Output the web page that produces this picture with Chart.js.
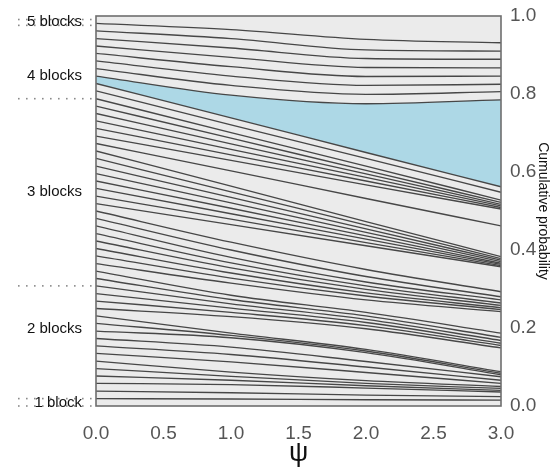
<!DOCTYPE html>
<html><head><meta charset="utf-8">
<script src="https://cdn.jsdelivr.net/npm/chart.js@4/dist/chart.umd.min.js"></script>
<style>html,body{margin:0;padding:0;background:#fff}#wrap{width:559px;height:470px}</style>
</head><body><div id="wrap"><canvas id="c" width="559" height="470"></canvas></div>
<script>
// psi values at which each cumulative-probability line is read
const psi = [0, 1, 2, 3];
const xTicks = [0, 0.5, 1, 1.5, 2, 2.5, 3];
const yTicks = [0, 0.2, 0.4, 0.6, 0.8, 1.0];
const blockLabels = ['1 block', '2 blocks', '3 blocks', '4 blocks', '5 blocks'];
const blockLabelY = [0.007, 0.197, 0.549, 0.846, 0.985];
const dottedBoundaries = [0, 0.019, 0.308, 0.788, 0.976, 0.991];

// cumulative probability lines (values at psi = 0,1,2,3), bottom to top
const lines1Block = [
  [0.019, 0.018, 0.016, 0.015]
];
const lines2Blocks = [
  [0.038, 0.034, 0.028, 0.024],
  [0.058, 0.055, 0.046, 0.036],
  [0.077, 0.066, 0.052, 0.040],
  [0.096, 0.076, 0.058, 0.045],
  [0.115, 0.087, 0.065, 0.050],
  [0.135, 0.113, 0.086, 0.058],
  [0.154, 0.132, 0.100, 0.066],
  [0.173, 0.151, 0.114, 0.075],
  [0.192, 0.175, 0.137, 0.080],
  [0.212, 0.181, 0.141, 0.084],
  [0.231, 0.187, 0.145, 0.088],
  [0.250, 0.229, 0.198, 0.149],
  [0.269, 0.240, 0.206, 0.155],
  [0.288, 0.251, 0.214, 0.161],
  [0.308, 0.262, 0.222, 0.168]
];
const lines3Blocks = [
  [0.327, 0.273, 0.231, 0.176],
  [0.346, 0.284, 0.240, 0.187],
  [0.365, 0.315, 0.272, 0.242],
  [0.385, 0.328, 0.282, 0.247],
  [0.404, 0.341, 0.290, 0.252],
  [0.423, 0.354, 0.299, 0.258],
  [0.442, 0.367, 0.308, 0.264],
  [0.462, 0.381, 0.318, 0.272],
  [0.481, 0.400, 0.332, 0.280],
  [0.500, 0.420, 0.350, 0.293],
  [0.519, 0.465, 0.411, 0.357],
  [0.538, 0.479, 0.419, 0.360],
  [0.558, 0.493, 0.428, 0.363],
  [0.577, 0.507, 0.436, 0.366],
  [0.596, 0.521, 0.445, 0.370],
  [0.615, 0.535, 0.454, 0.374],
  [0.635, 0.549, 0.464, 0.378],
  [0.654, 0.564, 0.473, 0.383],
  [0.673, 0.603, 0.532, 0.462],
  [0.692, 0.630, 0.567, 0.505],
  [0.712, 0.644, 0.577, 0.509],
  [0.731, 0.658, 0.586, 0.513],
  [0.750, 0.672, 0.595, 0.517],
  [0.769, 0.687, 0.604, 0.522],
  [0.788, 0.701, 0.615, 0.528]
];
const lines4Blocks = [
  [0.808, 0.721, 0.635, 0.548],
  [0.827, 0.739, 0.650, 0.562],
  [0.846, 0.797, 0.775, 0.785],
  [0.865, 0.822, 0.799, 0.806],
  [0.885, 0.846, 0.822, 0.825],
  [0.904, 0.870, 0.845, 0.846],
  [0.923, 0.894, 0.868, 0.867],
  [0.942, 0.918, 0.891, 0.889],
  [0.962, 0.942, 0.913, 0.910],
  [0.981, 0.965, 0.940, 0.9315]
];
const highlightLine = 44; // 1-based index of the line topping the shaded band

const allLines = [...lines1Block, ...lines2Blocks, ...lines3Blocks, ...lines4Blocks];
const datasets = allLines.map((vals, i) => ({
  data: psi.map((x, j) => ({x: x, y: vals[j]})),
  borderColor: '#474747',
  borderWidth: 1.35,
  pointRadius: 0,
  cubicInterpolationMode: 'monotone',
  fill: (i + 1 === highlightLine) ? '-1' : false,
  backgroundColor: '#add8e6'
}));

const FONT = '"Liberation Sans", Arial, sans-serif';

const bgPlugin = {
  id: 'bg',
  beforeDraw(chart) {
    const {ctx, chartArea: a} = chart;
    ctx.save();
    ctx.fillStyle = '#ebebeb';
    ctx.fillRect(a.left, a.top, a.right - a.left, a.bottom - a.top);
    ctx.restore();
  },
  afterDraw(chart) {
    const {ctx, chartArea: a} = chart;
    const ys = chart.scales.y;
    ctx.save();
    ctx.strokeStyle = '#6e6e6e';
    ctx.lineWidth = 1.6;
    ctx.strokeRect(a.left, a.top, a.right - a.left, a.bottom - a.top);
    ctx.fillStyle = '#8a8a8a';
    dottedBoundaries.forEach(v => {
      const y = ys.getPixelForValue(v);
      for (let x = 18; x <= 90; x += 8) ctx.fillRect(x, y - 0.8, 1.6, 1.6);
    });
    ctx.fillStyle = '#111';
    ctx.font = '15px ' + FONT;
    ctx.textAlign = 'right';
    ctx.textBaseline = 'middle';
    blockLabels.forEach((t, i) => {
      ctx.fillText(t, 82, ys.getPixelForValue(blockLabelY[i]));
    });
    ctx.restore();
  }
};

new Chart(document.getElementById('c'), {
  type: 'line',
  data: {datasets},
  options: {
    responsive: false,
    animation: false,
    events: [],
    layout: {padding: {left: 96, right: 5, top: 16, bottom: 0}},
    plugins: {legend: {display: false}, tooltip: {enabled: false},
      filler: {drawTime: 'beforeDatasetsDraw'}},
    scales: {
      x: {
        type: 'linear', min: 0, max: 3,
        afterBuildTicks: s => { s.ticks = xTicks.map(v => ({value: v})); },
        afterFit: s => { s.height = 64; s.paddingLeft = 0; s.paddingRight = 0; },
        grid: {display: false, drawTicks: false, tickLength: 0}, border: {display: false},
        ticks: {color: '#555', font: {family: FONT, size: 19},
          padding: 16, callback: v => v.toFixed(1), maxRotation: 0},
        title: {display: true, text: 'ψ', color: '#111',
          font: {family: FONT, size: 27}, padding: {top: 0, bottom: 0}}
      },
      y: {
        position: 'right', min: 0, max: 1,
        afterBuildTicks: s => { s.ticks = yTicks.map(v => ({value: v})); },
        afterFit: s => { s.width = 53; s.paddingTop = 0; s.paddingBottom = 0; },
        grid: {display: false, drawTicks: false, tickLength: 0}, border: {display: false},
        ticks: {color: '#555', font: {family: FONT, size: 19},
          padding: 9, callback: v => v.toFixed(1)},
        title: {display: true, text: 'Cumulative probability', color: '#111',
          font: {family: FONT, size: 14}, padding: {top: 3, bottom: 0}}
      }
    }
  },
  plugins: [bgPlugin]
});
</script></body></html>
